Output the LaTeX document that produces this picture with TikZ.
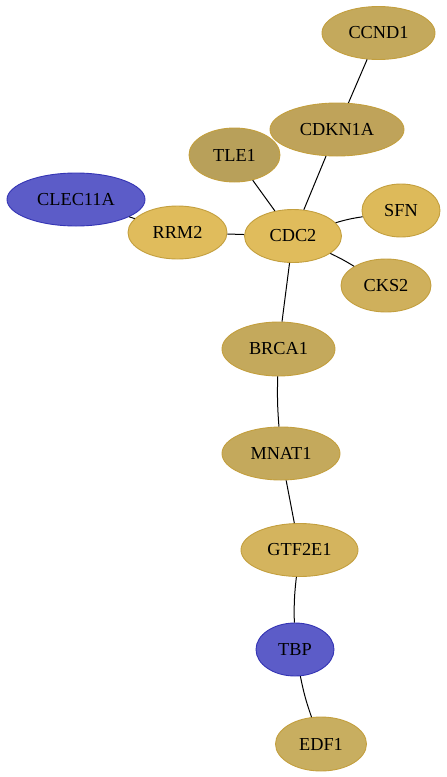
\documentclass[tikz,border=0pt]{standalone}
\usepackage{fontspec}
\setmainfont{Liberation Serif}
\usetikzlibrary{shapes.geometric}
\definecolor{goldA}{HTML}{C4A95C}
\definecolor{goldB}{HTML}{BFA35A}
\definecolor{goldC}{HTML}{B8A05A}
\definecolor{goldD}{HTML}{E0BC5C}
\definecolor{goldE}{HTML}{DDBA5A}
\definecolor{goldF}{HTML}{CFB05C}
\definecolor{goldG}{HTML}{D4B45E}
\definecolor{goldH}{HTML}{C8AE60}
\definecolor{goldEdge}{HTML}{C39F3E}
\definecolor{blueFill}{HTML}{5C5CC8}
\definecolor{blueEdge}{HTML}{3434B4}
\tikzset{
  gene/.style={ellipse, draw=goldEdge, line width=0.9pt, inner sep=0pt,
    font=\fontsize{18.3}{21}\selectfont, text=black},
  bluegene/.style={gene, draw=blueEdge, fill=blueFill},
  link/.style={draw=black, line width=1pt}
}
\begin{document}
\begin{tikzpicture}[x=1pt,y=-1pt]
\useasboundingbox (0,0) rectangle (447,777);
\node[gene, fill=goldA, minimum width=113, minimum height=53] (ccnd1) at (378.5,33) {CCND1};
\node[gene, fill=goldB, minimum width=134, minimum height=53] (cdkn1a) at (337,129.5) {CDKN1A};
\node[gene, fill=goldC, minimum width=91, minimum height=54] (tle1) at (234.5,155) {TLE1};
\node[bluegene, minimum width=138, minimum height=53] (clec) at (76,199.5) {CLEC11A};
\node[gene, fill=goldD, minimum width=99, minimum height=53] (rrm2) at (177.5,232.5) {RRM2};
\node[gene, fill=goldD, minimum width=97, minimum height=53] (cdc2) at (293,236) {CDC2};
\node[gene, fill=goldE, minimum width=78, minimum height=53] (sfn) at (401,210.5) {SFN};
\node[gene, fill=goldF, minimum width=90, minimum height=53] (cks2) at (386,285.5) {CKS2};
\node[gene, fill=goldA, minimum width=113, minimum height=54] (brca1) at (278.5,349) {BRCA1};
\node[gene, fill=goldA, minimum width=118, minimum height=53] (mnat1) at (281,453.5) {MNAT1};
\node[gene, fill=goldG, minimum width=117, minimum height=53] (gtf2e1) at (299.5,550) {GTF2E1};
\node[bluegene, minimum width=78, minimum height=53] (tbp) at (295,649.5) {TBP};
\node[gene, fill=goldH, minimum width=91, minimum height=54] (edf1) at (321,744) {EDF1};
\draw[link] (ccnd1) -- (cdkn1a);
\draw[link] (cdkn1a) -- (cdc2);
\draw[link] (tle1) -- (cdc2);
\draw[link] (clec) -- (rrm2);
\draw[link] (rrm2) -- (cdc2);
\draw[link] (cdc2) to[bend left=4] (sfn);
\draw[link] (cdc2) to[bend left=3] (cks2);
\draw[link] (cdc2) -- (brca1);
\draw[link] (brca1) to[bend right=3] (mnat1);
\draw[link] (mnat1) -- (gtf2e1);
\draw[link] (gtf2e1) to[bend right=4] (tbp);
\draw[link] (tbp) to[bend right=4] (edf1);
\end{tikzpicture}
\end{document}
